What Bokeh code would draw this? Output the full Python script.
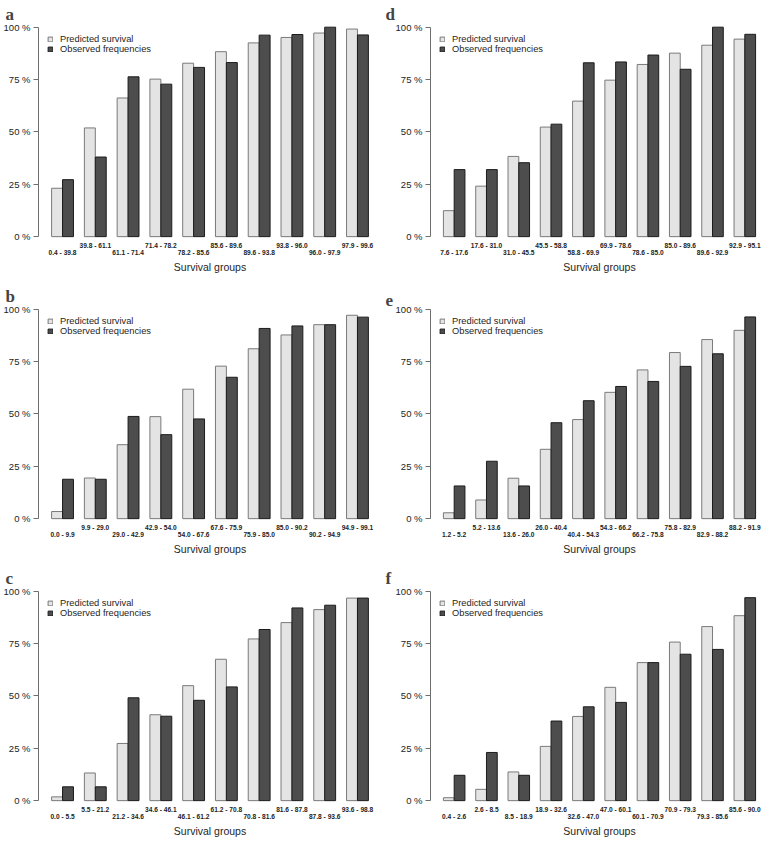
from bokeh.plotting import figure
from bokeh.models import (FactorRange, Range1d, FixedTicker, PrintfTickFormatter,
                          Title, Legend, LegendItem, ColumnDataSource)
from bokeh.layouts import gridplot
from bokeh.embed import file_html
from bokeh.resources import INLINE
from bokeh.core.properties import value

series = ["pred", "obs"]
series_labels = ["Predicted survival", "Observed frequencies"]
y_ticks = [0, 25, 50, 75, 100]
x_title = "Survival groups"

groups_a = ["0.4 - 39.8", "39.8 - 61.1", "61.1 - 71.4", "71.4 - 78.2", "78.2 - 85.6",
            "85.6 - 89.6", "89.6 - 93.8", "93.8 - 96.0", "96.0 - 97.9", "97.9 - 99.6"]
pred_a = [23.1, 51.9, 66.2, 75.2, 82.8, 88.3, 92.5, 95.1, 97.2, 99.1]
obs_a = [27.2, 38.0, 76.3, 72.8, 80.8, 83.1, 96.2, 96.5, 100.0, 96.3]

groups_b = ["0.0 - 9.9", "9.9 - 29.0", "29.0 - 42.9", "42.9 - 54.0", "54.0 - 67.6",
            "67.6 - 75.9", "75.9 - 85.0", "85.0 - 90.2", "90.2 - 94.9", "94.9 - 99.1"]
pred_b = [3.4, 19.4, 35.3, 48.7, 61.8, 72.8, 81.1, 87.7, 92.6, 97.1]
obs_b = [18.8, 18.8, 48.8, 40.1, 47.6, 67.5, 90.8, 92.0, 92.6, 96.2]

groups_c = ["0.0 - 5.5", "5.5 - 21.2", "21.2 - 34.6", "34.6 - 46.1", "46.1 - 61.2",
            "61.2 - 70.8", "70.8 - 81.6", "81.6 - 87.8", "87.8 - 93.6", "93.6 - 98.8"]
pred_c = [1.8, 13.2, 27.3, 41.0, 54.9, 67.5, 77.2, 85.0, 91.2, 96.7]
obs_c = [6.6, 6.6, 49.1, 40.3, 47.9, 54.3, 81.7, 92.0, 93.3, 96.7]

groups_d = ["7.6 - 17.6", "17.6 - 31.0", "31.0 - 45.5", "45.5 - 58.8", "58.8 - 69.9",
            "69.9 - 78.6", "78.6 - 85.0", "85.0 - 89.6", "89.6 - 92.9", "92.9 - 95.1"]
pred_d = [12.4, 24.1, 38.3, 52.3, 64.7, 74.7, 82.2, 87.6, 91.4, 94.3]
obs_d = [32.0, 32.0, 35.3, 53.7, 83.0, 83.4, 86.7, 79.9, 100.0, 96.6]

groups_e = ["1.2 - 5.2", "5.2 - 13.6", "13.6 - 26.0", "26.0 - 40.4", "40.4 - 54.3",
            "54.3 - 66.2", "66.2 - 75.8", "75.8 - 82.9", "82.9 - 88.2", "88.2 - 91.9"]
pred_e = [2.8, 8.9, 19.3, 33.1, 47.3, 60.3, 71.0, 79.3, 85.5, 89.9]
obs_e = [15.6, 27.4, 15.6, 45.8, 56.3, 63.1, 65.5, 72.7, 78.7, 96.3]

groups_f = ["0.4 - 2.6", "2.6 - 8.5", "8.5 - 18.9", "18.9 - 32.6", "32.6 - 47.0",
            "47.0 - 60.1", "60.1 - 70.9", "70.9 - 79.3", "79.3 - 85.6", "85.6 - 90.0"]
pred_f = [1.4, 5.4, 13.7, 25.9, 40.2, 54.1, 65.9, 75.7, 83.1, 88.3]
obs_f = [12.1, 23.0, 12.1, 38.0, 44.8, 46.9, 65.9, 69.9, 72.2, 96.9]

PRED_FILL, PRED_LINE = "#e4e4e4", "#7a7a7a"
OBS_FILL, OBS_LINE = "#4d4d4d", "#1c1c1c"
FONT = "Liberation Sans"

W, H = 384, 282
TOP_B, BOT_B = 20, 26
PX_100 = 214        # pixels for 0..100 %
Y_HI = 100.8


def make_panel(letter, groups, pred, obs, left_b, right_b):
    frame_h = H - TOP_B - BOT_B
    units = frame_h * 100.0 / PX_100
    y_lo = Y_HI - units
    xr = FactorRange(factors=[(g, s) for g in groups for s in series],
                     factor_padding=0, group_padding=1,
                     range_padding=1.2, range_padding_units="absolute")
    p = figure(width=W, height=H, x_range=xr, y_range=Range1d(y_lo, Y_HI),
               output_backend="svg", toolbar_location=None, x_axis_location=None,
               min_border_left=left_b, min_border_right=right_b,
               min_border_top=TOP_B, min_border_bottom=BOT_B, title=letter)
    p.grid.visible = False
    p.outline_line_color = None

    p.title.text_font = "Liberation Serif"
    p.title.text_font_size = "17px"
    p.title.text_font_style = "bold"
    p.title.align = "left"
    p.title.offset = -(left_b - 1)
    p.title.standoff = 4

    ya = p.yaxis[0]
    ya.ticker = FixedTicker(ticks=y_ticks, minor_ticks=[])
    ya.formatter = PrintfTickFormatter(format="%d %%")
    ya.bounds = (0, 100)
    ya.axis_line_color = "#6e6e6e"
    ya.major_tick_line_color = "#6e6e6e"
    ya.major_tick_in = 0
    ya.major_tick_out = 5
    ya.minor_tick_line_color = None
    ya.major_label_text_font = FONT
    ya.major_label_text_font_size = "9.5px"
    ya.major_label_text_color = "#1e1e1e"
    ya.major_label_standoff = 3

    src_p = ColumnDataSource(dict(x=[(g, series[0]) for g in groups], top=pred))
    src_o = ColumnDataSource(dict(x=[(g, series[1]) for g in groups], top=obs))
    r1 = p.vbar(x="x", top="top", bottom=0, width=1, source=src_p,
                fill_color=PRED_FILL, line_color=PRED_LINE, line_width=1)
    r2 = p.vbar(x="x", top="top", bottom=0, width=1, source=src_o,
                fill_color=OBS_FILL, line_color=OBS_LINE, line_width=1)

    src_t = ColumnDataSource(dict(x=groups, y=[0] * len(groups), text=groups,
                                  dy=[16 if i % 2 == 0 else 9 for i in range(len(groups))]))
    p.text(x="x", y="y", text="text", y_offset="dy", source=src_t,
           text_font=value(FONT), text_font_size=value("6.6px"),
           text_font_style="bold",
           text_align="center", text_baseline="middle", text_color="#222222")

    legend = Legend(items=[LegendItem(label=series_labels[0], renderers=[r1]),
                           LegendItem(label=series_labels[1], renderers=[r2])],
                    location="top_left", margin=9, padding=0, spacing=0,
                    glyph_width=6, glyph_height=6, label_height=10,
                    label_standoff=7, label_text_font=FONT,
                    label_text_font_size="9.3px", label_text_color="#1e1e1e",
                    border_line_color=None, background_fill_alpha=0)
    p.add_layout(legend)

    p.add_layout(Title(text=x_title, align="center", text_font=FONT,
                       text_font_size="10.5px", text_font_style="normal",
                       text_color="#1e1e1e", standoff=4), "below")
    return p


pa = make_panel("a", groups_a, pred_a, obs_a, 34, 3)
pb = make_panel("b", groups_b, pred_b, obs_b, 34, 3)
pc = make_panel("c", groups_c, pred_c, obs_c, 34, 3)
pd = make_panel("d", groups_d, pred_d, obs_d, 46, 0)
pe = make_panel("e", groups_e, pred_e, obs_e, 46, 0)
pf = make_panel("f", groups_f, pred_f, obs_f, 46, 0)

grid = gridplot([[pa, pd], [pb, pe], [pc, pf]], toolbar_location=None)

open("out.html", "w").write(file_html(grid, INLINE))
